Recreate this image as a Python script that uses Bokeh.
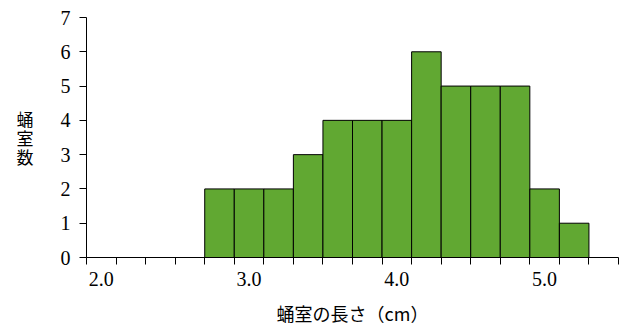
from bokeh.plotting import figure
from bokeh.models import Range1d, FixedTicker, PrintfTickFormatter
from bokeh.embed import file_html
from bokeh.resources import INLINE

# Histogram of pupal chamber lengths (bin width 0.2 cm)
bin_centers = [2.8, 3.0, 3.2, 3.4, 3.6, 3.8, 4.0, 4.2, 4.4, 4.6, 4.8, 5.0, 5.2]
counts = [2, 2, 2, 3, 4, 4, 4, 6, 5, 5, 5, 2, 1]
bin_width = 0.2
bin_edges = [round(1.9 + 0.2 * i, 1) for i in range(19)]
x_labels = [2.0, 3.0, 4.0, 5.0]
y_ticks = [0, 1, 2, 3, 4, 5, 6, 7]

serif = "Liberation Serif"
cjk = "Noto Sans CJK JP"

p = figure(width=626, height=329, output_backend="svg", toolbar_location=None,
           x_range=Range1d(1.9, 5.5), y_range=Range1d(0, 7),
           min_border_left=86, min_border_right=8, min_border_top=17, min_border_bottom=72)
p.outline_line_color = None
p.grid.visible = False
p.background_fill_color = "white"
p.border_fill_color = "white"

p.vbar(x=bin_centers, top=counts, width=bin_width, bottom=0,
       fill_color="#61A832", line_color="black", line_width=1)

# x axis: labels at whole centimetres, ticks at bin edges
xa = p.xaxis[0]
xa.ticker = FixedTicker(ticks=x_labels, minor_ticks=bin_edges)
xa.formatter = PrintfTickFormatter(format="%.1f")
xa.major_tick_out = 0
xa.major_tick_in = 0
xa.minor_tick_out = 7
xa.minor_tick_in = 0
xa.minor_tick_line_color = "black"
xa.axis_line_color = "black"
xa.major_label_text_font = serif
xa.major_label_text_font_size = "20px"
xa.major_label_text_color = "black"
xa.major_label_standoff = 7
xa.axis_label = "蛹室の長さ（cm）"
xa.axis_label_text_font = cjk
xa.axis_label_text_font_size = "18px"
xa.axis_label_text_font_style = "normal"
xa.axis_label_text_color = "black"
xa.axis_label_standoff = 11

# y axis: title written horizontally, one character per line
ya = p.yaxis[0]
ya.ticker = FixedTicker(ticks=y_ticks)
ya.major_tick_out = 7
ya.major_tick_in = 0
ya.minor_tick_out = 0
ya.minor_tick_in = 0
ya.axis_line_color = "black"
ya.major_tick_line_color = "black"
ya.major_label_text_font = serif
ya.major_label_text_font_size = "20px"
ya.major_label_text_color = "black"
ya.major_label_standoff = 9
ya.axis_label = "蛹\n室\n数"
ya.axis_label_orientation = "horizontal"
ya.axis_label_text_font = cjk
ya.axis_label_text_font_size = "17px"
ya.axis_label_text_font_style = "normal"
ya.axis_label_text_color = "black"
ya.axis_label_text_line_height = 0.75
ya.axis_label_standoff = 24

open("out.html", "w").write(file_html(p, INLINE))
